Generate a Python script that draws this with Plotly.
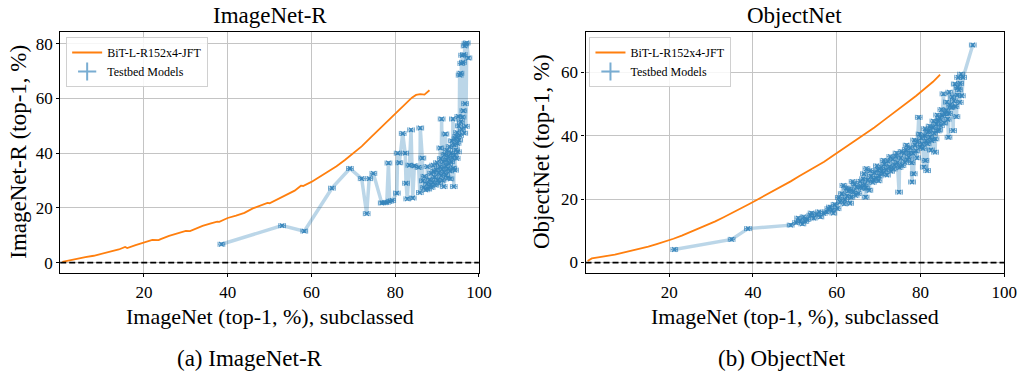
import plotly.graph_objects as go

# ---------------- ImageNet-R panel ----------------
bit_inr_x = [0.5, 2, 4, 6, 8, 10, 12, 14, 15.5, 16, 18, 20, 22, 23.5, 24, 26, 28, 30, 31, 32,
             34, 36, 37.5, 38, 40, 42, 44, 46, 48, 49.5, 50, 52, 54, 56, 57.5, 58, 60, 62,
             64, 66, 68, 70, 72, 74, 76, 78, 80, 82, 84, 85, 86, 87, 88.2]
bit_inr_y = [0.3, 0.8, 1.3, 2.0, 2.5, 3.2, 4.0, 4.8, 5.7, 5.3, 6.4, 7.3, 8.3, 8.2, 8.6, 9.8,
             10.8, 11.6, 11.5, 12.2, 13.4, 14.3, 15.0, 14.9, 16.3, 17.2, 18.2, 19.8, 20.9,
             21.8, 21.7, 23.3, 24.8, 26.3, 28.1, 28.0, 29.5, 31.3, 33.3, 35.2, 37.5, 40.0,
             42.5, 45.5, 48.5, 51.3, 54.3, 57.5, 60.3, 61.3, 61.6, 61.4, 63.0]

testbed_inr_x = [38.5, 53.0, 58.3, 64.9, 69.2, 72.0, 73.2, 73.8, 74.8, 76.8, 77.4, 78.0, 78.4,
                 78.7, 79.3, 80.4, 80.6, 81.0, 81.8, 82.4, 82.6, 82.9, 83.4, 83.8, 84.2, 84.6,
                 85.6, 85.9, 86.0, 86.5, 86.6, 86.8, 87.0, 87.3, 87.6, 87.7, 87.9, 88.2, 88.5,
                 88.6, 88.7, 89.0, 89.1, 89.2, 89.4, 89.6, 89.8, 90.0, 90.2, 90.4, 90.5, 90.7,
                 90.8, 90.9, 91.0, 91.1, 91.2, 91.3, 91.5, 91.6, 91.7, 91.8, 92.0, 92.1, 92.2,
                 92.3, 92.4, 92.5, 92.6, 92.7, 92.9, 93.0, 93.1, 93.2, 93.3, 93.4, 93.5, 93.7,
                 93.8, 93.9, 94.0, 94.1, 94.2, 94.3, 94.4, 94.5, 94.6, 94.7, 94.8, 94.9, 95.0,
                 95.1, 95.2, 95.3, 95.4, 95.5, 95.6, 95.7, 95.8, 95.9, 96.0, 96.1, 96.2, 96.3,
                 96.4, 96.5, 96.6, 96.7, 96.8, 96.9, 97.1, 97.5]
testbed_inr_y = [6.7, 13.5, 11.5, 27.2, 34.4, 30.7, 17.9, 30.7, 32.6, 21.8, 21.9, 22.0, 36.4,
                 22.4, 22.7, 25.4, 40.0, 36.5, 47.2, 40.0, 29.0, 23.3, 35.6, 48.5, 23.6, 35.4,
                 34.8, 25.6, 49.2, 38.2, 29.9, 27.4, 31.5, 26.6, 28.8, 35.1, 26.9, 30.3, 28.4,
                 32.6, 27.5, 29.4, 35.6, 33.3, 31.2, 28.3, 33.9, 36.5, 30.2, 32.8, 29.0, 35.0,
                 41.9, 38.0, 31.8, 52.5, 34.2, 30.1, 36.8, 27.8, 33.0, 39.5, 47.0, 35.3, 32.0,
                 37.6, 41.0, 30.9, 34.3, 38.8, 36.2, 42.4, 33.5, 30.6, 40.0, 36.9, 44.5, 38.3,
                 52.5, 34.5, 27.8, 43.0, 39.4, 33.8, 45.2, 41.2, 46.1, 38.1, 47.5, 43.6, 40.5,
                 53.4, 50.0, 44.8, 68.5, 46.5, 69.2, 51.5, 72.8, 48.7, 75.8, 53.2, 73.2, 55.5,
                 76.0, 47.3, 79.2, 58.1, 80.0, 49.8, 80.3, 74.8]

# ---------------- ObjectNet panel ----------------
bit_obj_x = [0.5, 1.5, 3, 5, 7, 9, 11, 13, 15, 17, 19, 21, 23, 25, 27, 29, 31, 33, 35, 37, 39,
             41, 43, 45, 47, 49, 51, 53, 55, 57, 59, 61, 63, 65, 67, 69, 71, 73, 75, 77, 79, 81,
             83, 84.7]
bit_obj_y = [0.5, 1.3, 1.6, 2.0, 2.5, 3.1, 3.7, 4.3, 5.0, 5.8, 6.6, 7.5, 8.5, 9.6, 10.8, 11.8,
             13.0, 14.3, 15.6, 17.0, 18.4, 19.8, 21.2, 22.6, 24.0, 25.6, 27.2, 28.7, 30.2, 31.8,
             33.6, 35.4, 37.0, 38.8, 40.7, 42.6, 44.6, 46.6, 48.5, 50.4, 52.6, 54.8, 57.0, 59.3]

testbed_obj_x = [21.2, 34.9, 38.8, 49.0, 50.3, 50.8, 51.2, 51.8, 52.1, 52.5, 53.0, 53.7, 54.0,
                 54.5, 55.2, 55.8, 56.1, 56.9, 57.6, 58.0, 58.4, 58.9, 59.2, 59.5, 60.2, 60.5,
                 60.8, 61.2, 61.6, 61.8, 62.0, 62.3, 62.5, 62.8, 63.0, 63.2, 63.5, 63.8, 64.0,
                 64.3, 64.5, 64.7, 65.2, 65.6, 65.8, 66.0, 66.3, 66.5, 66.7, 66.9, 67.0, 67.1,
                 67.4, 67.8, 68.0, 68.2, 68.6, 68.8, 69.0, 69.4, 69.6, 69.8, 70.0, 70.2, 70.6,
                 70.8, 71.0, 71.2, 71.4, 71.8, 72.0, 72.2, 72.6, 72.8, 73.0, 73.4, 73.6, 73.8,
                 74.1, 74.3, 74.5, 74.9, 75.0, 75.3, 75.5, 75.7, 76.1, 76.3, 76.5, 76.7, 76.9,
                 77.2, 77.4, 77.6, 77.9, 78.0, 78.2, 78.4, 78.5, 78.7, 79.0, 79.2, 79.3, 79.6,
                 79.8, 79.9, 80.2, 80.4, 80.6, 80.8, 81.0, 81.1, 81.2, 81.4, 81.6, 81.7, 81.8,
                 82.0, 82.2, 82.3, 82.5, 82.7, 83.0, 83.1, 83.3, 83.5, 83.6, 83.8, 84.0, 84.1,
                 84.3, 84.5, 84.6, 84.9, 85.0, 85.2, 85.5, 85.7, 85.9, 86.2, 86.3, 86.5, 86.7,
                 86.8, 86.9, 87.1, 87.4, 87.6, 87.8, 88.0, 88.2, 88.4, 88.6, 88.8, 88.9, 89.0,
                 89.2, 89.4, 89.5, 89.7, 89.9, 90.2, 92.5]
testbed_obj_y = [4.1, 7.3, 10.7, 11.8, 12.6, 14.0, 13.1, 12.2, 14.4, 13.0, 13.6, 14.9, 15.6,
                 14.0, 15.2, 16.0, 14.4, 15.5, 16.0, 17.0, 17.5, 16.5, 15.6, 18.3, 17.0, 20.5,
                 19.1, 21.7, 24.3, 18.5, 19.8, 23.5, 21.0, 22.6, 23.2, 18.7, 20.6, 25.5, 22.4,
                 24.9, 21.2, 23.8, 21.8, 25.6, 24.0, 23.4, 26.4, 28.0, 24.6, 20.6, 23.5, 29.6,
                 26.0, 22.8, 29.0, 27.2, 25.3, 26.0, 28.4, 26.6, 30.5, 29.2, 25.8, 27.3, 30.0,
                 28.8, 28.0, 32.2, 31.0, 29.3, 27.6, 32.0, 30.2, 33.4, 28.8, 32.6, 29.5, 30.8,
                 33.5, 34.5, 31.5, 22.2, 30.0, 33.0, 35.0, 30.6, 34.5, 31.6, 35.6, 37.0, 32.3,
                 33.2, 34.6, 36.2, 31.5, 25.4, 34.5, 28.0, 38.6, 37.0, 35.2, 33.0, 38.2, 45.8,
                 40.5, 36.4, 39.3, 37.4, 36.0, 30.1, 40.0, 42.2, 32.2, 38.4, 29.0, 37.5, 41.2,
                 41.6, 43.0, 39.6, 35.5, 38.5, 42.6, 44.6, 40.8, 34.8, 39.0, 43.6, 46.5, 41.5,
                 44.8, 41.8, 45.5, 43.2, 48.2, 46.4, 53.2, 44.0, 46.9, 48.0, 50.6, 45.2, 39.5,
                 47.0, 53.7, 49.6, 48.9, 52.2, 41.6, 51.0, 56.3, 49.2, 46.0, 52.8, 55.2, 58.4,
                 54.5, 50.5, 56.5, 59.4, 52.6, 58.4, 68.6]

# confidence-interval half widths used for the error bars
ci_x = 0.8
ci_y = 0.5

ORANGE = "#ff7f0e"
BLUE = "#1f77b4"
SERIF = "Liberation Serif, Times New Roman, serif"

fig = go.Figure()


def add_panel(bx, by, tx, ty, xa, ya, legend_name):
    fig.add_trace(go.Scatter(
        x=bx, y=by, mode="lines", name="BiT-L-R152x4-JFT",
        line=dict(color=ORANGE, width=1.8),
        xaxis=xa, yaxis=ya, legend=legend_name))
    fig.add_trace(go.Scatter(
        x=tx, y=ty, mode="lines", showlegend=False,
        line=dict(color="rgba(31,119,180,0.3)", width=3.5),
        xaxis=xa, yaxis=ya, hoverinfo="skip"))
    fig.add_trace(go.Scatter(
        x=tx, y=ty, mode="markers", showlegend=False,
        marker=dict(symbol="x-thin", size=4.5, color=BLUE,
                    line=dict(color=BLUE, width=1.2)),
        error_x=dict(type="constant", value=ci_x, thickness=1, width=2.5,
                     color="rgba(31,119,180,0.75)"),
        error_y=dict(type="constant", value=ci_y, thickness=1, width=2,
                     color="rgba(31,119,180,0.75)"),
        opacity=0.85, xaxis=xa, yaxis=ya))
    # legend entry for the testbed series (errorbar glyph)
    fig.add_trace(go.Scatter(
        x=[None], y=[None], mode="markers", name="Testbed Models",
        marker=dict(symbol="cross-thin", size=13, color="rgba(31,119,180,0.6)",
                    line=dict(color="rgba(31,119,180,0.6)", width=2)),
        xaxis=xa, yaxis=ya, legend=legend_name))


add_panel(bit_inr_x, bit_inr_y, testbed_inr_x, testbed_inr_y, "x", "y", "legend")
add_panel(bit_obj_x, bit_obj_y, testbed_obj_x, testbed_obj_y, "x2", "y2", "legend2")

axis_common = dict(
    showgrid=True, gridcolor="#c4c4c4", gridwidth=1.2,
    showline=True, linecolor="black", linewidth=1.2, mirror=True,
    ticks="outside", ticklen=3, tickcolor="black", tickwidth=1,
    zeroline=False,
    tickfont=dict(family=SERIF, size=17, color="black"),
)

fig.update_layout(
    width=1030, height=374,
    margin=dict(l=0, r=0, t=0, b=0),
    paper_bgcolor="white", plot_bgcolor="white",
    xaxis=dict(domain=[61 / 1030, 485 / 1030], range=[0, 100],
               tickvals=[20, 40, 60, 80, 100], anchor="y", **axis_common),
    yaxis=dict(domain=[1 - 273 / 374, 1 - 31.7 / 374], range=[-3.8, 84.4],
               tickvals=[0, 20, 40, 60, 80], anchor="x", **axis_common),
    xaxis2=dict(domain=[593 / 1030, 1017 / 1030], range=[0, 100],
                tickvals=[20, 40, 60, 80, 100], anchor="y2", **axis_common),
    yaxis2=dict(domain=[1 - 273 / 374, 1 - 31.7 / 374], range=[-3.3, 72.8],
                tickvals=[0, 20, 40, 60], anchor="x2", **axis_common),
    legend=dict(x=67 / 1030, y=1 - 37 / 374, xanchor="left", yanchor="top",
                bgcolor="rgba(255,255,255,0.85)", bordercolor="#d0d0d0", borderwidth=1,
                font=dict(family=SERIF, size=12, color="black"),
                tracegroupgap=0, itemwidth=30),
    legend2=dict(x=597 / 1030, y=1 - 37 / 374, xanchor="left", yanchor="top",
                 bgcolor="rgba(255,255,255,0.85)", bordercolor="#d0d0d0", borderwidth=1,
                 font=dict(family=SERIF, size=12, color="black"),
                 tracegroupgap=0, itemwidth=30),
    showlegend=True,
)

# dashed zero reference line on each panel
for xr, yr in (("x domain", "y"), ("x2 domain", "y2")):
    fig.add_shape(type="line", xref=xr, yref=yr, x0=0, x1=1, y0=0, y1=0,
                  line=dict(color="black", width=1.8, dash="6px,3px"), layer="above")


def label(text, x, y, size, angle=0):
    fig.add_annotation(text=text, x=x / 1030, y=1 - y / 374, xref="paper", yref="paper",
                       showarrow=False, textangle=angle, xanchor="center", yanchor="middle",
                       font=dict(family=SERIF, size=size, color="black"))


label("ImageNet-R", 273, 16, 23)
label("ObjectNet", 805, 16, 23)
label("ImageNet-R (top-1, %)", 18, 152, 23, -90)
label("ObjectNet (top-1, %)", 548, 152, 23, -90)
label("ImageNet (top-1, %), subclassed", 273, 316, 22)
label("ImageNet (top-1, %), subclassed", 805, 316, 22)
label("(a) ImageNet-R", 253, 358, 23)
label("(b) ObjectNet", 792, 358, 23)

fig.write_html("out.html")
